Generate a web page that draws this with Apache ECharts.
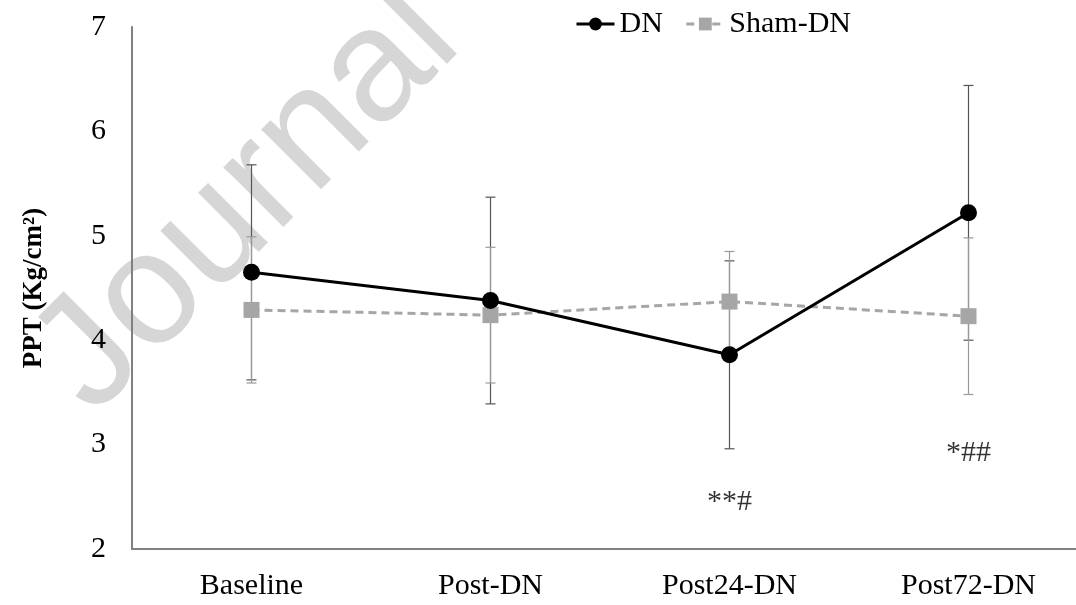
<!DOCTYPE html>
<html><head><meta charset="utf-8">
<script src="https://cdn.jsdelivr.net/npm/echarts@6/dist/echarts.min.js"></script>
<style>html,body{margin:0;padding:0;background:#fff}#c{width:1076px;height:605px}</style>
</head><body><div id="c"></div>
<script>
const categories = ['Baseline', 'Post-DN', 'Post24-DN', 'Post72-DN'];
const dnMean = [4.65, 4.38, 3.86, 5.22];
const dnSD = [1.03, 0.99, 0.90, 1.22];
const shamMean = [4.29, 4.24, 4.37, 4.23];
const shamSD = [0.70, 0.65, 0.48, 0.75];
const yTicks = [2, 3, 4, 5, 6, 7];
const annotCats = ['Post24-DN', 'Post72-DN'];
const annotY = [2.45, 2.92];
const annotText = ['**#', '*##'];

const serif = 'Liberation Serif, Times New Roman, serif';

function errData(mean, sd) {
  return mean.map((m, i) => [i, m - sd[i], m + sd[i]]);
}
function errRender(color) {
  return function (params, api) {
    const x = api.value(0);
    const lo = api.coord([x, api.value(1)]);
    const hi = api.coord([x, api.value(2)]);
    const w = 5;
    const style = { stroke: color, lineWidth: 1.2 };
    return {
      type: 'group',
      children: [
        { type: 'line', shape: { x1: lo[0], y1: lo[1], x2: hi[0], y2: hi[1] }, style },
        { type: 'line', shape: { x1: lo[0] - w, y1: lo[1], x2: lo[0] + w, y2: lo[1] }, style },
        { type: 'line', shape: { x1: hi[0] - w, y1: hi[1], x2: hi[0] + w, y2: hi[1] }, style }
      ]
    };
  };
}

const chart = echarts.init(document.getElementById('c'));
chart.setOption({
  animation: false,
  backgroundColor: '#fff',
  graphic: [{
    type: 'text', z: -10,
    x: 62, y: 386,
    rotation: 45 * Math.PI / 180,
    style: { text: 'Journal', x: 0, y: 0, align: 'left', verticalAlign: 'middle',
      font: '160px "Liberation Sans", Arial, sans-serif', fill: '#d6d6d6' }
  }],
  legend: {
    top: 4, left: 570,
    itemWidth: 38, itemHeight: 16, itemGap: 22,
    lineStyle: { width: 3 },
    textStyle: { fontFamily: serif, fontSize: 30, color: '#000' },
    data: ['DN', 'Sham-DN']
  },
  grid: { left: 132, top: 27, width: 956, height: 522, containLabel: false, outerBoundsMode: 'none' },
  xAxis: {
    type: 'category', data: categories, boundaryGap: true,
    axisLine: { lineStyle: { color: '#808080', width: 2 } },
    axisTick: { show: false },
    axisLabel: { fontFamily: serif, fontSize: 30, color: '#000', margin: 22 }
  },
  yAxis: {
    type: 'value', min: yTicks[0], max: yTicks[yTicks.length - 1], interval: 1,
    name: 'PPT (Kg/cm²)', nameLocation: 'middle', nameGap: 84, nameRotate: 90,
    nameTextStyle: { fontFamily: serif, fontSize: 27, fontWeight: 'bold', color: '#000' },
    axisLine: { show: true, lineStyle: { color: '#808080', width: 2 } },
    axisTick: { show: false },
    splitLine: { show: false },
    axisLabel: { fontFamily: serif, fontSize: 30, color: '#000', margin: 26 }
  },
  series: [
    {
      type: 'custom', name: 'errDN', renderItem: errRender('#555'),
      data: errData(dnMean, dnSD), z: 1, silent: true
    },
    {
      type: 'custom', name: 'errSham', renderItem: errRender('#999'),
      data: errData(shamMean, shamSD), z: 1, silent: true
    },
    {
      name: 'Sham-DN', type: 'line', data: shamMean, z: 3,
      symbol: 'rect', symbolSize: 16,
      itemStyle: { color: '#a6a6a6' },
      lineStyle: { color: '#a6a6a6', width: 3, type: [8, 5] }
    },
    {
      name: 'DN', type: 'line', data: dnMean, z: 4,
      symbol: 'circle', symbolSize: 17,
      itemStyle: { color: '#000' },
      lineStyle: { color: '#000', width: 3 }
    },
    {
      type: 'scatter', name: 'annot', symbolSize: 0, silent: true,
      data: annotCats.map((c, i) => ({ value: [c, annotY[i]], label: { formatter: annotText[i] } })),
      label: { show: true, position: 'inside', fontFamily: serif, fontSize: 30, color: '#000' }
    }
  ]
});
</script></body></html>
